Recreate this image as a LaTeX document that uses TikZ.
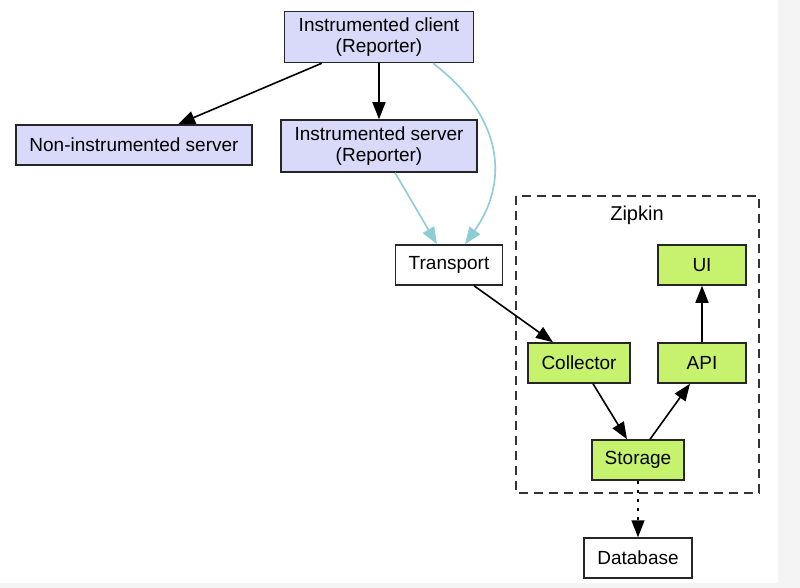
\documentclass[tikz,border=0pt]{standalone}
\usepackage{fontspec}
\setmainfont{Liberation Sans}
\usetikzlibrary{arrows.meta}
\definecolor{lavbox}{HTML}{D9D9F9}
\definecolor{limebox}{HTML}{C6F26D}
\definecolor{cyanline}{HTML}{8ECDD4}
\definecolor{edgegray}{HTML}{F4F4F4}
\tikzset{
	box/.style={draw=black!85, line width=1.5pt, inner sep=0pt, align=center,
		font=\fontsize{19}{21}\selectfont},
	client/.style={box, fill=lavbox},
	zipkin/.style={box, fill=limebox},
	plain/.style={box, fill=white},
	flow/.style={line width=1.6pt, -{Triangle[length=17pt,width=13pt]}},
	report/.style={flow, draw=cyanline, -{Triangle[length=17pt,width=13pt,fill=cyanline]}}
}
\begin{document}
\begin{tikzpicture}[x=1pt,y=-1pt]
	\fill[edgegray] (0,0) rectangle (800,588);
	\fill[white] (0,0) rectangle (778,583);
	\useasboundingbox (0,0) rectangle (800,588);
	% zipkin group
	\draw[black!80, line width=1.5pt, dash pattern=on 9pt off 6pt] (516,196) rectangle (759,493);
	\node[font=\fontsize{20}{22}\selectfont] (title) at (637,215) {Zipkin};
	% nodes
	\node[client, minimum width=189pt, minimum height=51pt] (cli) at (379,37) {Instrumented client\\(Reporter)};
	\node[client, minimum width=236pt, minimum height=40pt] (nis) at (134,145) {Non-instrumented server};
	\node[client, minimum width=196pt, minimum height=52pt] (isv) at (379,146) {Instrumented server\\(Reporter)};
	\node[plain, minimum width=107pt, minimum height=40pt] (trans) at (449,265) {Transport};
	\node[zipkin, minimum width=88pt, minimum height=40pt] (ui) at (702,265) {UI};
	\node[zipkin, minimum width=102pt, minimum height=40pt] (coll) at (579,363) {Collector};
	\node[zipkin, minimum width=88pt, minimum height=40pt] (api) at (702,363) {API};
	\node[zipkin, minimum width=92pt, minimum height=40pt] (stor) at (638,460) {Storage};
	\node[plain, minimum width=108pt, minimum height=40pt] (db) at (638,558) {Database};
	% edges
	\draw[flow] ([xshift=38pt]cli.south west) -- ([xshift=44pt]nis.north);
	\draw[flow] (cli) -- (isv);
	\draw[report] ([xshift=54pt]cli.south) .. controls (507,120) and (507,185) .. ([xshift=16pt]trans.north);
	\draw[report] ([xshift=16pt]isv.south) -- ([xshift=-12pt]trans.north);
	\draw[flow] ([xshift=25pt]trans.south) -- ([xshift=-26pt]coll.north);
	\draw[flow] ([xshift=14pt]coll.south) -- ([xshift=-11pt]stor.north);
	\draw[flow] ([xshift=12pt]stor.north) -- ([xshift=-12pt]api.south);
	\draw[flow] (api) -- (ui);
	\draw[flow, dash pattern=on 3pt off 6pt] (stor) -- (db);
\end{tikzpicture}
\end{document}
